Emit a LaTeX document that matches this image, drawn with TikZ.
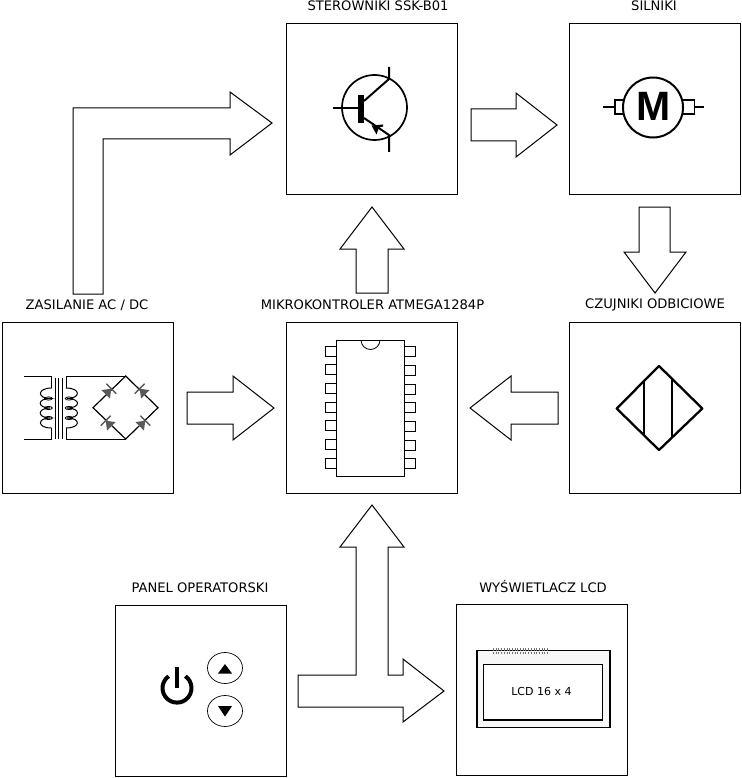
\documentclass[tikz,border=0pt]{standalone}
\usepackage{fontspec}
\setmainfont{DejaVu Sans}
\newfontfamily\motorfont{Liberation Sans}
\begin{document}
\begin{tikzpicture}[x=1pt,y=-1pt,
 boxnode/.style={draw=black,line width=1pt,minimum width=171pt,minimum height=171pt,inner sep=0pt,fill=white},
 lab/.style={font=\fontsize{13.1}{15}\selectfont,inner sep=0pt,anchor=center},
 arrowline/.style={draw=black,line width=1pt,fill=white,line join=miter},
 sym/.style={line width=2pt,line join=round}]
\useasboundingbox (0,0) rectangle (741,778);
\fill[white] (0,0) rectangle (741,778);
% boxes
\node[boxnode] (ster) at (372,109) {};
\node[boxnode] (siln) at (654.5,109) {};
\node[boxnode] (zas) at (87.5,407.5) {};
\node[boxnode] (mcu) at (371.5,407.5) {};
\node[boxnode] (czuj) at (655,407.5) {};
\node[boxnode] (panel) at (200.5,690.5) {};
\node[boxnode] (lcd) at (542,689.5) {};
% labels
\node[lab] (lster) at (378,6) {STEROWNIKI SSK-B01};
\node[lab] (lsiln) at (654,6) {SILNIKI};
\node[lab] (lzas) at (87,305) {ZASILANIE AC / DC};
\node[lab] (lmcu) at (372.5,305) {MIKROKONTROLER ATMEGA1284P};
\node[lab] (lczuj) at (655,305) {CZUJNIKI ODBICIOWE};
\node[lab] (lpanel) at (200,588) {PANEL OPERATORSKI};
\node[lab] (llcd) at (543,587) {WYŚWIETLACZ LCD};
% arrows
\draw[arrowline] (73,294) -- (73,108) -- (230,108) -- (230,92) -- (272,123) -- (230,155) -- (230,139) -- (103,139) -- (103,294) -- cycle;
\draw[arrowline] (471,109) -- (516,109) -- (516,93) -- (557,125) -- (516,157) -- (516,141) -- (471,141) -- cycle;
\draw[arrowline] (639,207) -- (639,252) -- (624,252) -- (655,293) -- (686,252) -- (670,252) -- (670,207) -- cycle;
\draw[arrowline] (356,293) -- (356,249) -- (340,249) -- (372,207) -- (404,249) -- (388,249) -- (388,293) -- cycle;
\draw[arrowline] (187,392) -- (233,392) -- (233,376) -- (274,408) -- (233,440) -- (233,424) -- (187,424) -- cycle;
\draw[arrowline] (558,392) -- (511,392) -- (511,376) -- (470,408) -- (511,440) -- (511,424) -- (558,424) -- cycle;
\draw[arrowline] (298,675) -- (356,675) -- (356,547) -- (340,547) -- (372,505) -- (404,547) -- (388,547) -- (388,675) -- (403,675) -- (403,659) -- (444,691) -- (403,722) -- (403,707) -- (298,707) -- cycle;
% transistor
\draw[line width=1.7pt] (374.5,107.5) circle (32.5);
\draw[sym] (333,108) -- (360,108);
\fill (358,95) rectangle (364,123);
\draw[sym] (364,101) -- (389,79) -- (389,67);
\draw[sym] (364,118) -- (389,135) -- (389,152);
\fill (371.5,125.5) -- (383,124.5) -- (383,126.5) -- (379,127.5) -- (376.5,134.5) -- cycle;
% motor
\draw[line width=2pt] (653,107.5) circle (30);
\draw[line width=1.7pt] (614,107) -- (603,107) (695,107) -- (704,107);
\draw[line width=1.6pt] (623,100) -- (615,100) -- (615,114) -- (623,114);
\draw[line width=1.6pt] (683,100) -- (694.5,100) -- (694.5,114) -- (683,114);
\node[font=\motorfont\bfseries\fontsize{41}{41}\selectfont,inner sep=0pt] (mlet) at (654,106.5) {M};
% bridge/transformer
\begin{scope}[line width=1pt]
\draw (24,376) -- (51.5,376) -- (51.5,388);
\draw (24,439) -- (51.5,439) -- (51.5,428);
\draw (51.5,388) .. controls (37,388) and (37,398.5) .. (50,398.5) .. controls (37,398.5) and (37,408) .. (50,408) .. controls (37,408) and (37,418) .. (50,418) .. controls (37,418) and (37,428) .. (51.5,428);
\draw (66,376) -- (125.7,376);
\draw (66,439) -- (125.7,439);
\draw (66,376) -- (66,388) (66,439) -- (66,428);
\draw (66,388) .. controls (81,388) and (81,398.5) .. (67,398.5) .. controls (81,398.5) and (81,408) .. (67,408) .. controls (81,408) and (81,418) .. (67,418) .. controls (81,418) and (81,428) .. (66,428);
\draw[line width=.8pt] (48.5,398.5) ellipse (3.8 and 1.6) (48.5,408) ellipse (3.8 and 1.6) (48.5,418) ellipse (3.8 and 1.6);
\draw[line width=.8pt] (69,398.5) ellipse (3.8 and 1.6) (69,408) ellipse (3.8 and 1.6) (69,418) ellipse (3.8 and 1.6);
\draw (55,378) -- (55,439) (58.5,378) -- (58.5,439) (62,378) -- (62,439);
\draw[line width=1.2pt] (125.7,376) -- (158,407.7) -- (125.7,439) -- (93,407.7) -- cycle;
\end{scope}
\foreach \cx/\cy/\ang in {108.5/391.5/-45,142.5/391.5/45,108.5/423.5/45,142.5/423.5/-45}{
 \fill[black!65,rotate around={\ang:(\cx,\cy)}] (\cx-6,\cy+4) -- (\cx+6,\cy+4) -- (\cx,\cy-4) -- cycle;
 \draw[black!65,line width=1.4pt,rotate around={\ang:(\cx,\cy)}] (\cx-7,\cy-4) -- (\cx+7,\cy-4);
}
% IC
\draw[line width=1pt,fill=white] (336,340) rectangle (404,476);
\draw[line width=.8pt] (361,340) arc[start angle=180,end angle=0,radius=9.5];
\foreach \i in {0,...,6}{
 \draw[line width=1pt] (336,346+\i*18.7) -- (325.5,346+\i*18.7) -- (325.5,356+\i*18.7) -- (336,356+\i*18.7);
 \draw[line width=1pt] (404,346.7+\i*18.7) -- (415,346.7+\i*18.7) -- (415,356.7+\i*18.7) -- (404,356.7+\i*18.7);
}
% sensor
\draw[line width=2.3pt,line join=round] (659,366) -- (702.3,408.5) -- (659,450) -- (616.7,408.5) -- cycle;
\draw[line width=2.3pt] (644.3,381) -- (644.3,436) (672.3,379.5) -- (672.3,437.5);
% panel
\draw[line width=.7pt] (225,668) ellipse (17.5 and 15.5);
\draw[line width=.7pt] (225,711) ellipse (17.5 and 15.5);
\fill (218,673.5) -- (232,673.5) -- (225,664) -- cycle;
\fill (218,706) -- (232,706) -- (225,716.5) -- cycle;
\draw[line width=4pt] (168.7,676.2) arc[start angle=-125,end angle=-415,radius=14.5];
\draw[line width=4pt] (177,667) -- (177,688);
% lcd
\draw[line width=1.4pt,fill=black!3] (477,650.7) rectangle (610,727.3);
\draw[line width=1.4pt,fill=white] (483.3,664.3) rectangle (602.7,720);
\draw[black!55,line width=2.5pt,dash pattern=on .7pt off 2pt] (493,649.3) -- (548,649.3);
\draw[black!55,line width=2.5pt,dash pattern=on .7pt off 2pt] (493,653) -- (548,653);
\node[font=\fontsize{11}{14}\selectfont,inner sep=0pt] (lcdt) at (541.5,691) {LCD 16 x 4};
\end{tikzpicture}
\end{document}
